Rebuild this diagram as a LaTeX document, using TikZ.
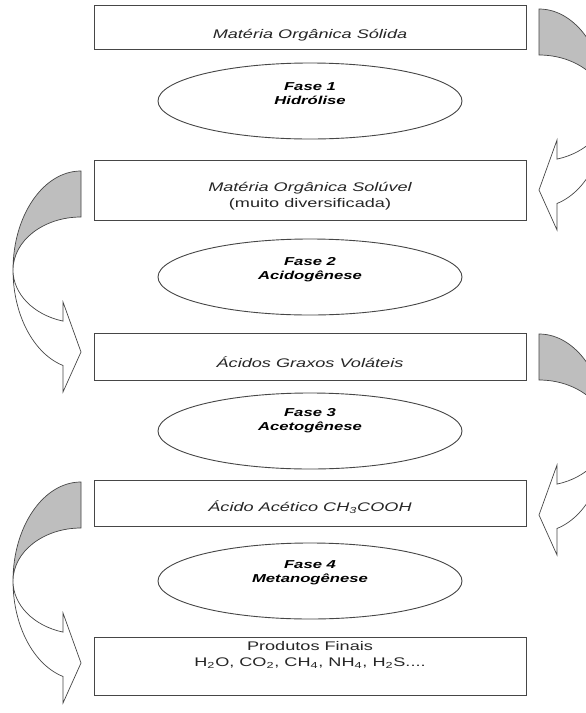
\documentclass[tikz,border=0pt]{standalone}
\usepackage{fontspec}
\setmainfont{Liberation Sans}
\usetikzlibrary{shapes.geometric}
\definecolor{bandgray}{RGB}{190,190,190}
\definecolor{edgegray}{RGB}{70,70,70}
\newcommand\wide[1]{\scalebox{1.45}[1]{#1}}
\newcommand\rightcurl[1]{%
  \path[backband] (539,{-#1}) arc[start angle=90,end angle=0,x radius=68,y radius=99]
    arc[start angle=0,end angle=90,x radius=68,y radius=53] -- cycle;
  \path[frontband] (607,{-(#1+99)}) arc[start angle=0,end angle=-74.65,x radius=68,y radius=99]
    -- (557,{-(#1+221)}) -- (539,{-(#1+181)}) -- (557,{-(#1+131)}) -- (557,{-(#1+150.1)})
    arc[start angle=-74.65,end angle=0,x radius=68,y radius=53] -- cycle;}
\newcommand\leftcurl[1]{%
  \path[backband] (81,{-#1}) arc[start angle=90,end angle=180,x radius=68,y radius=99]
    arc[start angle=180,end angle=90,x radius=68,y radius=53] -- cycle;
  \path[frontband] (13,{-(#1+99)}) arc[start angle=180,end angle=254.65,x radius=68,y radius=99]
    -- (63,{-(#1+221)}) -- (81,{-(#1+181)}) -- (63,{-(#1+131)}) -- (63,{-(#1+150.1)})
    arc[start angle=254.65,end angle=180,x radius=68,y radius=53] -- cycle;}
\tikzset{
  box/.style={draw=edgegray, line width=0.9pt, minimum width=432pt, inner sep=0pt, anchor=north},
  phase/.style={ellipse, draw=edgegray, line width=0.9pt, minimum width=304pt, minimum height=76pt, inner sep=0pt},
  btext/.style={font=\fontsize{12.5}{16}\selectfont, text=black!85, align=center, inner sep=0pt},
  ptext/.style={font=\fontsize{11.5}{14}\selectfont\bfseries\itshape, align=center, inner sep=0pt},
  backband/.style={fill=bandgray, draw=edgegray, line width=0.7pt},
  frontband/.style={fill=white, draw=edgegray, line width=0.7pt},
}
\begin{document}
\begin{tikzpicture}[x=1pt,y=1pt]
\useasboundingbox (0,0) rectangle (586,-713);
\clip (0,0) rectangle (586,-713);
\fill[white] (0,0) rectangle (586,-713);
% boxes
\node[box, minimum height=44pt] (b1) at (310,-5) {};
\node[box, minimum height=60pt] (b2) at (310,-160) {};
\node[box, minimum height=47pt] (b3) at (310,-333) {};
\node[box, minimum height=46pt] (b4) at (310,-480) {};
\node[box, minimum height=58pt] (b5) at (310,-637) {};
\node[btext] (t1) at (310,-35) {\wide{\itshape Matéria Orgânica Sólida}};
\node[btext] (t2) at (310,-196) {\wide{\itshape Matéria Orgânica Solúvel}\\\wide{(muito diversificada)}};
\node[btext] (t3) at (310,-362) {\wide{\itshape Ácidos Graxos Voláteis}};
\node[btext] (t4) at (310,-507) {\wide{\itshape Ácido Acético CH\textsubscript{3}COOH}};
\node[btext] (t5) at (310,-655) {\wide{Produtos Finais}\\\wide{H\textsubscript{2}O, CO\textsubscript{2}, CH\textsubscript{4}, NH\textsubscript{4}, H\textsubscript{2}S....}};
% ellipses
\node[phase] (e1) at (310,-101) {};
\node[phase] (e2) at (310,-277) {};
\node[phase] (e3) at (310,-431) {};
\node[phase] (e4) at (310,-581) {};
\node[ptext] (p1) at (310,-94) {\wide{Fase 1}\\\wide{Hidrólise}};
\node[ptext] (p2) at (310,-270) {\wide{Fase 2}\\\wide{Acidogênese}};
\node[ptext] (p3) at (310,-421) {\wide{Fase 3}\\\wide{Acetogênese}};
\node[ptext] (p4) at (310,-573) {\wide{Fase 4}\\\wide{Metanogênese}};
% curved arrows
\rightcurl{9}
\leftcurl{171}
\rightcurl{334}
\leftcurl{482}
\end{tikzpicture}
\end{document}
